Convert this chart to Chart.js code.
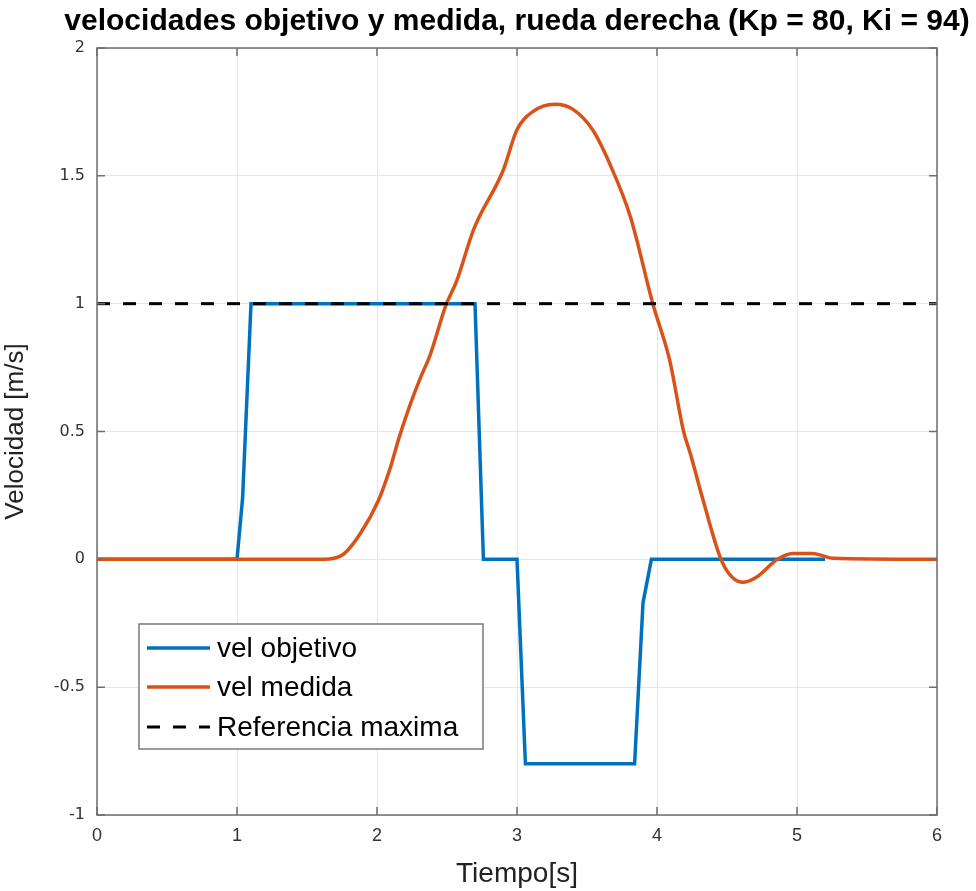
<!DOCTYPE html>
<html>
<head>
<meta charset="utf-8">
<script src="https://cdn.jsdelivr.net/npm/chart.js@4/dist/chart.umd.min.js"></script>
<style>
    html, body { margin: 0; padding: 0; background: #fff; }
    #wrap { width: 976px; height: 891px; }
</style>
</head>
<body>
<div id="wrap"><canvas id="velChart" width="976" height="891"></canvas></div>
<script>
// Data
const timeObjetivo = [0, 1.0, 1.04, 1.1, 2.7, 2.76, 3.0, 3.06, 3.84, 3.9, 3.96, 5.2];
const velObjetivo  = [0, 0, 0.24, 1.0, 1.0, 0, 0, -0.8, -0.8, -0.17, 0, 0];

const timeMedida = [0, 1.62, 1.76, 1.88, 2.01, 2.09, 2.16, 2.24, 2.31, 2.38, 2.49, 2.57, 2.69, 2.9, 3.0, 3.11, 3.27,
    3.4, 3.54, 3.66, 3.81, 3.97, 4.09, 4.19, 4.24, 4.33, 4.45, 4.52, 4.61, 4.71, 4.86, 4.97, 5.11, 5.26, 6.0];
const velMedida = [0, 0, 0.02, 0.10, 0.23, 0.35, 0.48, 0.61, 0.71, 0.80, 0.99, 1.09, 1.29, 1.52, 1.68, 1.75, 1.78,
    1.76, 1.68, 1.55, 1.34, 1.0, 0.78, 0.50, 0.41, 0.23, 0.01, -0.06, -0.09, -0.07, 0.0, 0.023, 0.023, 0.004, 0];

const timeReferencia = [0, 6];
const velReferencia  = [1, 1];

const xTicks = [0, 1, 2, 3, 4, 5, 6];
const yTicks = [-1, -0.5, 0, 0.5, 1, 1.5, 2];

const seriesLabels = ['vel objetivo', 'vel medida', 'Referencia maxima'];
const chartTitle = 'velocidades objetivo y medida, rueda derecha (Kp = 80, Ki = 94)';

function toPoints(xs, ys) {
    return xs.map((x, i) => ({ x: x, y: ys[i] }));
}

// Title centred over the axes (MATLAB style), not over the whole canvas
const axesTitle = {
    id: 'axesTitle',
    afterDraw(chart) {
        const ctx = chart.ctx;
        const a = chart.chartArea;
        ctx.save();
        ctx.fillStyle = '#000';
        ctx.font = 'bold 30px "Liberation Sans", Arial, sans-serif';
        ctx.textAlign = 'center';
        ctx.textBaseline = 'middle';
        ctx.fillText(chartTitle, (a.left + a.right) / 2, 22);
        ctx.restore();
    }
};

// Legend drawn inside the axes, like the MATLAB original
const insideLegend = {
    id: 'insideLegend',
    afterDraw(chart) {
        const ctx = chart.ctx;
        const box = { x: 139, y: 624, w: 344, h: 125 };
        ctx.save();
        ctx.fillStyle = '#ffffff';
        ctx.fillRect(box.x, box.y, box.w, box.h);
        ctx.strokeStyle = '#7a7a7a';
        ctx.lineWidth = 1.5;
        ctx.strokeRect(box.x, box.y, box.w, box.h);

        const rows = [648, 687, 727];
        chart.data.datasets.forEach((ds, i) => {
            ctx.beginPath();
            ctx.strokeStyle = ds.borderColor;
            ctx.lineWidth = ds.borderWidth;
            ctx.setLineDash(ds.borderDash || []);
            ctx.moveTo(147, rows[i]);
            ctx.lineTo(210, rows[i]);
            ctx.stroke();
            ctx.setLineDash([]);
            ctx.fillStyle = '#000';
            ctx.font = '28px "Liberation Sans", Arial, sans-serif';
            ctx.textBaseline = 'middle';
            ctx.textAlign = 'left';
            ctx.fillText(ds.label, 217, rows[i] + 1);
        });
        ctx.restore();
    }
};

// Box round the axes and inward tick marks on all four sides
const axesBox = {
    id: 'axesBox',
    afterDatasetsDraw(chart) {
        const ctx = chart.ctx;
        const a = chart.chartArea;
        const xs = chart.scales.x, ys = chart.scales.y;
        ctx.save();
        ctx.strokeStyle = '#6e6e6e';
        ctx.lineWidth = 1.5;
        ctx.beginPath();
        xTicks.forEach(t => {
            const px = xs.getPixelForValue(t);
            ctx.moveTo(px, a.bottom); ctx.lineTo(px, a.bottom - 8);
            ctx.moveTo(px, a.top); ctx.lineTo(px, a.top + 8);
        });
        yTicks.forEach(t => {
            const py = ys.getPixelForValue(t);
            ctx.moveTo(a.left, py); ctx.lineTo(a.left + 8, py);
            ctx.moveTo(a.right, py); ctx.lineTo(a.right - 8, py);
        });
        ctx.stroke();
        ctx.strokeRect(a.left, a.top, a.right - a.left, a.bottom - a.top);
        ctx.restore();
    }
};

const ctx = document.getElementById('velChart').getContext('2d');
new Chart(ctx, {
    type: 'line',
    data: {
        datasets: [
            {
                label: seriesLabels[0],
                data: toPoints(timeObjetivo, velObjetivo),
                borderColor: '#0072BD',
                borderWidth: 3.5,
                pointRadius: 0,
                tension: 0,
                order: 2
            },
            {
                label: seriesLabels[1],
                data: toPoints(timeMedida, velMedida),
                borderColor: '#D95319',
                borderWidth: 3.5,
                pointRadius: 0,
                cubicInterpolationMode: 'monotone',
                order: 1
            },
            {
                label: seriesLabels[2],
                data: toPoints(timeReferencia, velReferencia),
                borderColor: '#000000',
                borderWidth: 3,
                borderDash: [13, 13],
                pointRadius: 0,
                order: 0
            }
        ]
    },
    options: {
        responsive: false,
        animation: false,
        layout: { padding: { left: 0, right: 39, top: 48, bottom: 0 } },
        plugins: {
            legend: { display: false },
            tooltip: { enabled: false },
            title: { display: false }
        },
        scales: {
            x: {
                type: 'linear',
                min: 0,
                max: 6,
                afterBuildTicks: (scale) => { scale.ticks = xTicks.map(v => ({ value: v })); },
                afterFit: (scale) => { scale.height = 76; },
                border: { display: false },
                grid: { color: '#e6e6e6', lineWidth: 1, drawTicks: false },
                ticks: {
                    color: '#333',
                    padding: 10,
                    font: { family: '"Liberation Sans", Arial, sans-serif', size: 18 }
                },
                title: {
                    display: true,
                    text: 'Tiempo[s]',
                    color: '#222',
                    padding: { top: 0, bottom: 0 },
                    font: { family: '"Liberation Sans", Arial, sans-serif', size: 28 }
                }
            },
            y: {
                type: 'linear',
                min: -1,
                max: 2,
                afterBuildTicks: (scale) => { scale.ticks = yTicks.map(v => ({ value: v })); },
                afterFit: (scale) => { scale.width = 97; },
                border: { display: false },
                grid: { color: '#e6e6e6', lineWidth: 1, drawTicks: false },
                ticks: {
                    color: '#333',
                    padding: 12,
                    font: { family: '"DejaVu Sans", Verdana, sans-serif', size: 16 },
                    callback: (v) => String(v)
                },
                title: {
                    display: true,
                    text: 'Velocidad [m/s]',
                    color: '#222',
                    padding: { top: 0, bottom: 4 },
                    font: { family: '"Liberation Sans", Arial, sans-serif', size: 26 }
                }
            }
        }
    },
    plugins: [axesBox, axesTitle, insideLegend]
});
</script>
</body>
</html>
